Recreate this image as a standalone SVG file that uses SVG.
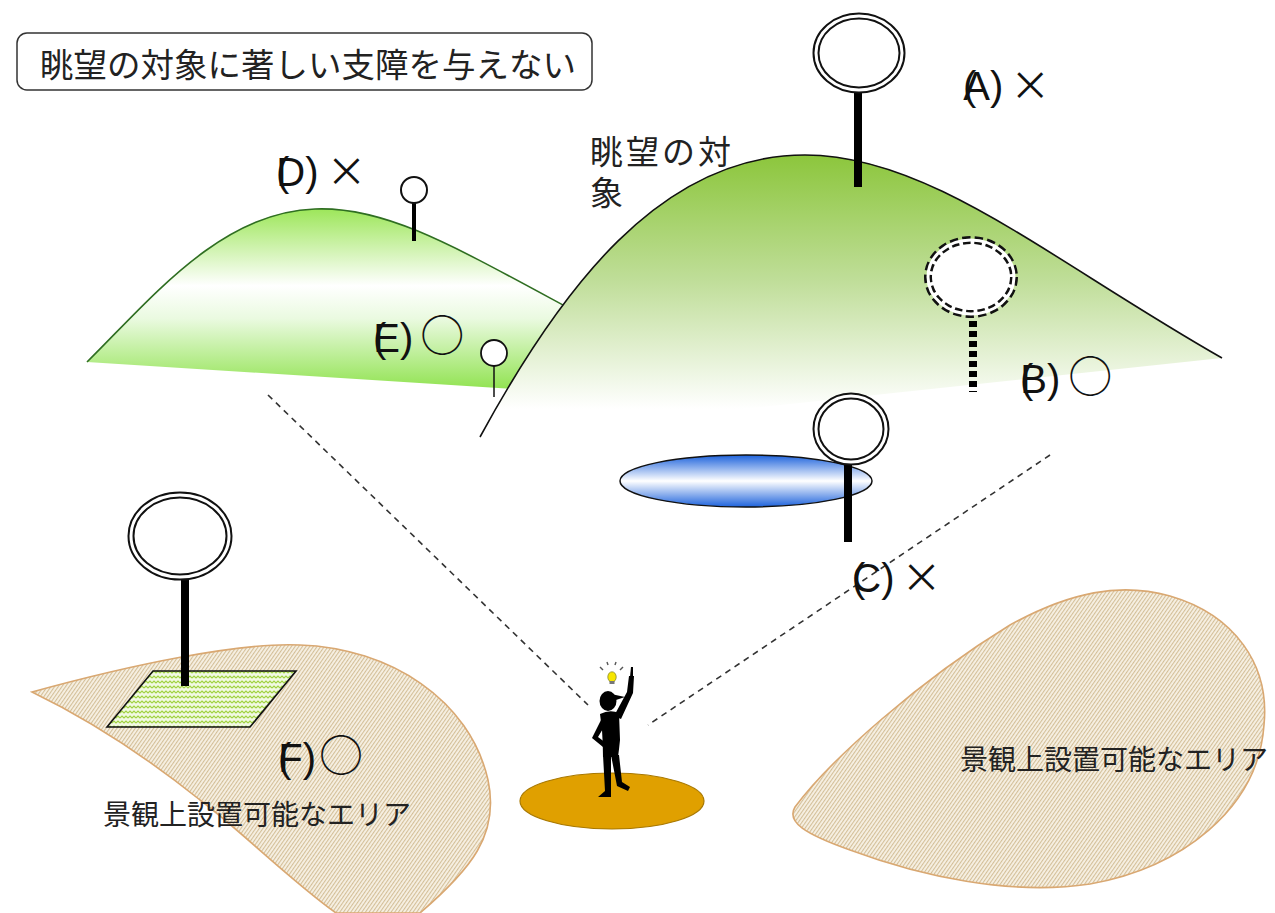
<svg xmlns="http://www.w3.org/2000/svg" width="1275" height="913" viewBox="0 0 1275 913">
  <defs>
    <linearGradient id="gMain" x1="0" y1="0" x2="0" y2="1">
      <stop offset="0" stop-color="#8cc63c"/>
      <stop offset="0.45" stop-color="#c0de9a"/>
      <stop offset="0.9" stop-color="#ffffff"/>
    </linearGradient>
    <linearGradient id="gSub" x1="0" y1="0" x2="0" y2="1">
      <stop offset="0" stop-color="#9de65a"/>
      <stop offset="0.42" stop-color="#ffffff"/>
      <stop offset="0.6" stop-color="#eafae0"/>
      <stop offset="1" stop-color="#8ee24c"/>
    </linearGradient>
    <linearGradient id="gLake" x1="0" y1="0" x2="0" y2="1">
      <stop offset="0" stop-color="#1e63dc"/>
      <stop offset="0.5" stop-color="#ffffff"/>
      <stop offset="1" stop-color="#1e63dc"/>
    </linearGradient>
    <pattern id="hatch" width="3" height="3" patternUnits="userSpaceOnUse" patternTransform="rotate(35)">
      <rect width="3" height="3" fill="#f7f1e4"/>
      <rect width="1.1" height="3" fill="#d3bf98"/>
    </pattern>
    <pattern id="wave" width="8" height="5" patternUnits="userSpaceOnUse">
      <rect width="8" height="5" fill="#f1f9e2"/>
      <path d="M0,3 L2,1 L4,3 L6,1 L8,3" fill="none" stroke="#9fd23e" stroke-width="1.1"/>
    </pattern>
    <style>
      .cjk { font-family: "Noto Sans CJK JP", "Noto Sans", sans-serif; fill: #222; }
      .lbl { font-family: "Liberation Sans", "Noto Sans CJK JP", sans-serif; font-size: 40px; fill: #111; }
      .mark { font-family: "Noto Sans CJK JP", sans-serif; }
      .ring-o { fill: #fff; stroke: #111; stroke-width: 7; }
      .ring-i { fill: none; stroke: #fff; stroke-width: 3; }
      .pole { stroke: #000; stroke-width: 8; }
      .sight { fill: none; stroke: #333; stroke-width: 1.6; stroke-dasharray: 6 5; }
      .area { fill: url(#hatch); stroke: #d9a872; stroke-width: 1.6; }
    </style>
  </defs>

  <rect width="1275" height="913" fill="#fff"/>

  <!-- title box -->
  <g id="title">
    <rect x="17" y="33" width="575" height="57" rx="10" fill="#fff" stroke="#333" stroke-width="1.5"/>
    <text class="cjk" x="40" y="62" font-size="33.5" dominant-baseline="central">眺望の対象に著しい支障を与えない</text>
  </g>

  <!-- installable areas -->
  <g id="area-left">
    <path class="area" d="M32,692 C130,665 240,642 300,645 C390,648 470,700 488,780 C500,835 470,870 420,913 L336,913 C290,880 240,830 200,800 C150,760 90,720 32,692 Z"/>
    <path d="M107,727 L153,671 L296,671 L250,727 Z" fill="url(#wave)" stroke="#111" stroke-width="1.6"/>
    <text class="cjk" x="103" y="813" font-size="28" dominant-baseline="central">景観上設置可能なエリア</text>
  </g>
  <g id="area-right">
    <path class="area" d="M795,807 C830,760 920,680 1010,625 C1070,592 1120,582 1170,596 C1235,615 1270,665 1264,725 C1258,810 1180,868 1090,884 C1010,896 920,876 850,850 C805,834 786,822 795,807 Z"/>
    <text class="cjk" x="960" y="758" font-size="28" dominant-baseline="central">景観上設置可能なエリア</text>
  </g>

  <!-- hills -->
  <g id="hill-sub">
    <path d="M87,362 C150,300 220,212 315,209 C390,206 460,250 600,325 L560,392 Z" fill="url(#gSub)"/>
    <path d="M87,362 C150,300 220,212 315,209 C390,206 460,250 600,325" fill="none" stroke="#2f6e22" stroke-width="1.6"/>
  </g>
  <g id="hill-main">
    <path d="M480,437 C560,290 660,155 805,155 C930,155 1050,260 1222,358 L480,437 Z" fill="url(#gMain)"/>
    <path d="M480,437 C560,290 660,155 805,155 C930,155 1050,260 1222,358" fill="none" stroke="#111" stroke-width="1.6"/>
    <text class="cjk" x="590" y="150" font-size="33" letter-spacing="3" dominant-baseline="central">眺望の対</text>
    <text class="cjk" x="590" y="191" font-size="33" dominant-baseline="central">象</text>
  </g>

  <!-- lake -->
  <g id="lake">
    <ellipse cx="746" cy="481" rx="126" ry="26" fill="url(#gLake)" stroke="#111" stroke-width="1.5"/>
  </g>

  <!-- sight lines from the viewer -->
  <g id="connectors">
    <path class="sight" d="M268,395 L588,705"/>
    <path class="sight" d="M1050,455 L648,725"/>
  </g>

  <!-- A: large sign on the ridge -->
  <g id="sign-a">
    <line class="pole" x1="858" y1="92" x2="858" y2="187"/>
    <ellipse class="ring-o" cx="859" cy="53" rx="43" ry="37"/>
    <ellipse class="ring-i" cx="859" cy="53" rx="43" ry="37"/>
    <text class="lbl" x="963" y="100">(<tspan dx="-13">A)</tspan><tspan class="mark" dx="7">×</tspan></text>
  </g>

  <!-- B: sign kept below the ridge line -->
  <g id="sign-b">
    <line x1="973" y1="321" x2="973" y2="392" stroke="#000" stroke-width="8" stroke-dasharray="6 4"/>
    <ellipse cx="971" cy="277" rx="43" ry="37" fill="#fff" stroke="#111" stroke-width="8" stroke-dasharray="8 4"/>
    <ellipse cx="971" cy="277" rx="43" ry="37" fill="none" stroke="#fff" stroke-width="3"/>
    <text class="lbl" x="1020" y="393">(<tspan dx="-13">B)</tspan><tspan class="mark" dx="8" font-size="44">○</tspan></text>
  </g>

  <!-- C: sign in front of the lake -->
  <g id="sign-c">
    <line class="pole" x1="848" y1="462" x2="848" y2="542"/>
    <ellipse class="ring-o" cx="851" cy="429" rx="35" ry="33"/>
    <ellipse class="ring-i" cx="851" cy="429" rx="35" ry="33"/>
    <text class="lbl" x="852" y="592">(<tspan dx="-13">C)</tspan><tspan class="mark" dx="7">×</tspan></text>
  </g>

  <!-- D: small sign breaking the skyline -->
  <g id="sign-d">
    <line x1="414" y1="202" x2="414" y2="241" stroke="#000" stroke-width="4"/>
    <circle cx="414" cy="190" r="13" fill="#fff" stroke="#111" stroke-width="2"/>
    <text class="lbl" x="276" y="186">(<tspan dx="-13">D)</tspan><tspan class="mark" dx="8">×</tspan></text>
  </g>

  <!-- E: small sign within the slope -->
  <g id="sign-e">
    <line x1="494" y1="366" x2="494" y2="397" stroke="#111" stroke-width="1.5"/>
    <circle cx="494" cy="353" r="13" fill="#fff" stroke="#111" stroke-width="1.8"/>
    <text class="lbl" x="373" y="352">(<tspan dx="-13">E)</tspan><tspan class="mark" dx="7" font-size="44">○</tspan></text>
  </g>

  <!-- F: sign on the installable area -->
  <g id="sign-f">
    <line class="pole" x1="185" y1="578" x2="185" y2="686"/>
    <ellipse class="ring-o" cx="180" cy="536" rx="49" ry="41"/>
    <ellipse class="ring-i" cx="180" cy="536" rx="49" ry="41"/>
    <text class="lbl" x="278" y="772">(<tspan dx="-13">F)</tspan><tspan class="mark" dx="3" font-size="44">○</tspan></text>
  </g>

  <!-- viewer standing point -->
  <g id="viewer">
    <ellipse cx="612" cy="801" rx="92" ry="28" fill="#e0a000" stroke="#a87800" stroke-width="1.2"/>
    <g fill="#000">
      <ellipse cx="608" cy="701" rx="8.5" ry="10"/>
      <path d="M611,694 L625,697 L613,701 Z"/>
      <path d="M600,714 Q610,709 619,713 L620,740 Q619,750 618,757 L603,757 Q603,745 602,730 Z"/>
      <path d="M614,716 L627,692 L629,676 L634,676 L633,693 L621,719 Z"/>
      <path d="M630,677 L631,667 L633,667 L633,677 Z"/>
      <path d="M603,716 L592,738 L603,747 L606,743 L598,737 L607,722 Z"/>
      <path d="M603,755 L605,791 L598,797 L611,797 L611,790 L611,756 Z"/>
      <path d="M611,755 L617,786 L628,791 L630,787 L622,782 L619,755 Z"/>
    </g>
    <ellipse cx="612" cy="677" rx="4.2" ry="5.2" fill="#f7e600" stroke="#8a8a30" stroke-width="0.8"/>
    <rect x="609.5" y="681" width="5" height="3" fill="#777"/>
    <g stroke="#555" stroke-width="1.4">
      <line x1="600" y1="667" x2="603" y2="670"/>
      <line x1="607" y1="662" x2="608" y2="665"/>
      <line x1="616" y1="662" x2="615" y2="665"/>
      <line x1="623" y1="667" x2="620" y2="670"/>
    </g>
  </g>
</svg>
